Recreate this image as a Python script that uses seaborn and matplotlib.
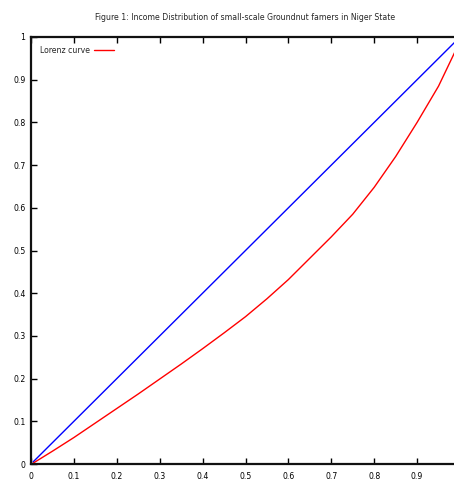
import numpy as np
import pandas as pd
import seaborn as sns
import matplotlib
matplotlib.use('Agg')
import matplotlib.pyplot as plt

# cumulative share of farmers (x) and cumulative share of income (y)
pop_share = [0.005, 0.05, 0.1, 0.15, 0.2, 0.25, 0.3, 0.35, 0.4, 0.45, 0.5,
             0.55, 0.6, 0.65, 0.7, 0.75, 0.8, 0.85, 0.9, 0.95, 1.0]
lorenz = [0.002, 0.03, 0.062, 0.096, 0.13, 0.164, 0.199, 0.234, 0.27, 0.307, 0.345,
          0.387, 0.432, 0.482, 0.532, 0.585, 0.648, 0.72, 0.80, 0.885, 0.99]
equality = [0.005, 1.0]

x_ticks = [0, 0.1, 0.2, 0.3, 0.4, 0.5, 0.6, 0.7, 0.8, 0.9, 1]
y_ticks = [0, 0.1, 0.2, 0.3, 0.4, 0.5, 0.6, 0.7, 0.8, 0.9, 1]
x_labels = ['0', '0.1', '0.2', '0.3', '0.4', '0.5', '0.6', '0.7', '0.8', '0.9', '1']
y_labels = ['0', '0.1', '0.2', '0.3', '0.4', '0.5', '0.6', '0.7', '0.8', '0.9', '1']

title = 'Figure 1: Income Distribution of small-scale Groundnut famers in Niger State'


if __name__ == '__main__':

  sns.set_style('ticks')
  plt.rcParams['font.family'] = ['DejaVu Sans']
  plt.rcParams['font.stretch'] = 'condensed'
  plt.rcParams['font.size'] = 6.2

  curve = pd.DataFrame({'x': pop_share, 'y': lorenz})
  diag = pd.DataFrame({'x': equality, 'y': equality})

  fig = plt.figure(figsize=(4.54, 4.80), dpi=100)
  ax = fig.add_axes([31/454, 16/480, 429/454, 427/480])

  sns.lineplot(data=diag, x='x', y='y', ax=ax, color='#0000ff', lw=1)
  sns.lineplot(data=curve, x='x', y='y', ax=ax, color='#ff0000', lw=1,
               label='Lorenz curve')

  ax.set_xlim(0, 1)
  ax.set_ylim(0, 1)
  ax.set_xticks(x_ticks)
  ax.set_xticklabels(x_labels)
  ax.set_yticks(y_ticks)
  ax.set_yticklabels(y_labels)
  ax.set_xlabel('')
  ax.set_ylabel('')

  ax.tick_params(direction='in', length=4, width=1, top=True, right=True,
                 labelsize=6.2, colors='black')
  ax.tick_params(axis='x', pad=6)
  ax.tick_params(axis='y', pad=4)
  for side in ['top', 'bottom', 'left', 'right']:
    ax.spines[side].set_linewidth(1.6)
    ax.spines[side].set_color('#111111')

  ax.set_title(title, fontsize=6.2, pad=12)

  leg = ax.legend(loc='upper left', frameon=False, fontsize=6.2,
                  markerfirst=False, handlelength=2.3, handletextpad=0.5,
                  borderaxespad=0.6)

  fig.savefig('out.png', dpi=100)
